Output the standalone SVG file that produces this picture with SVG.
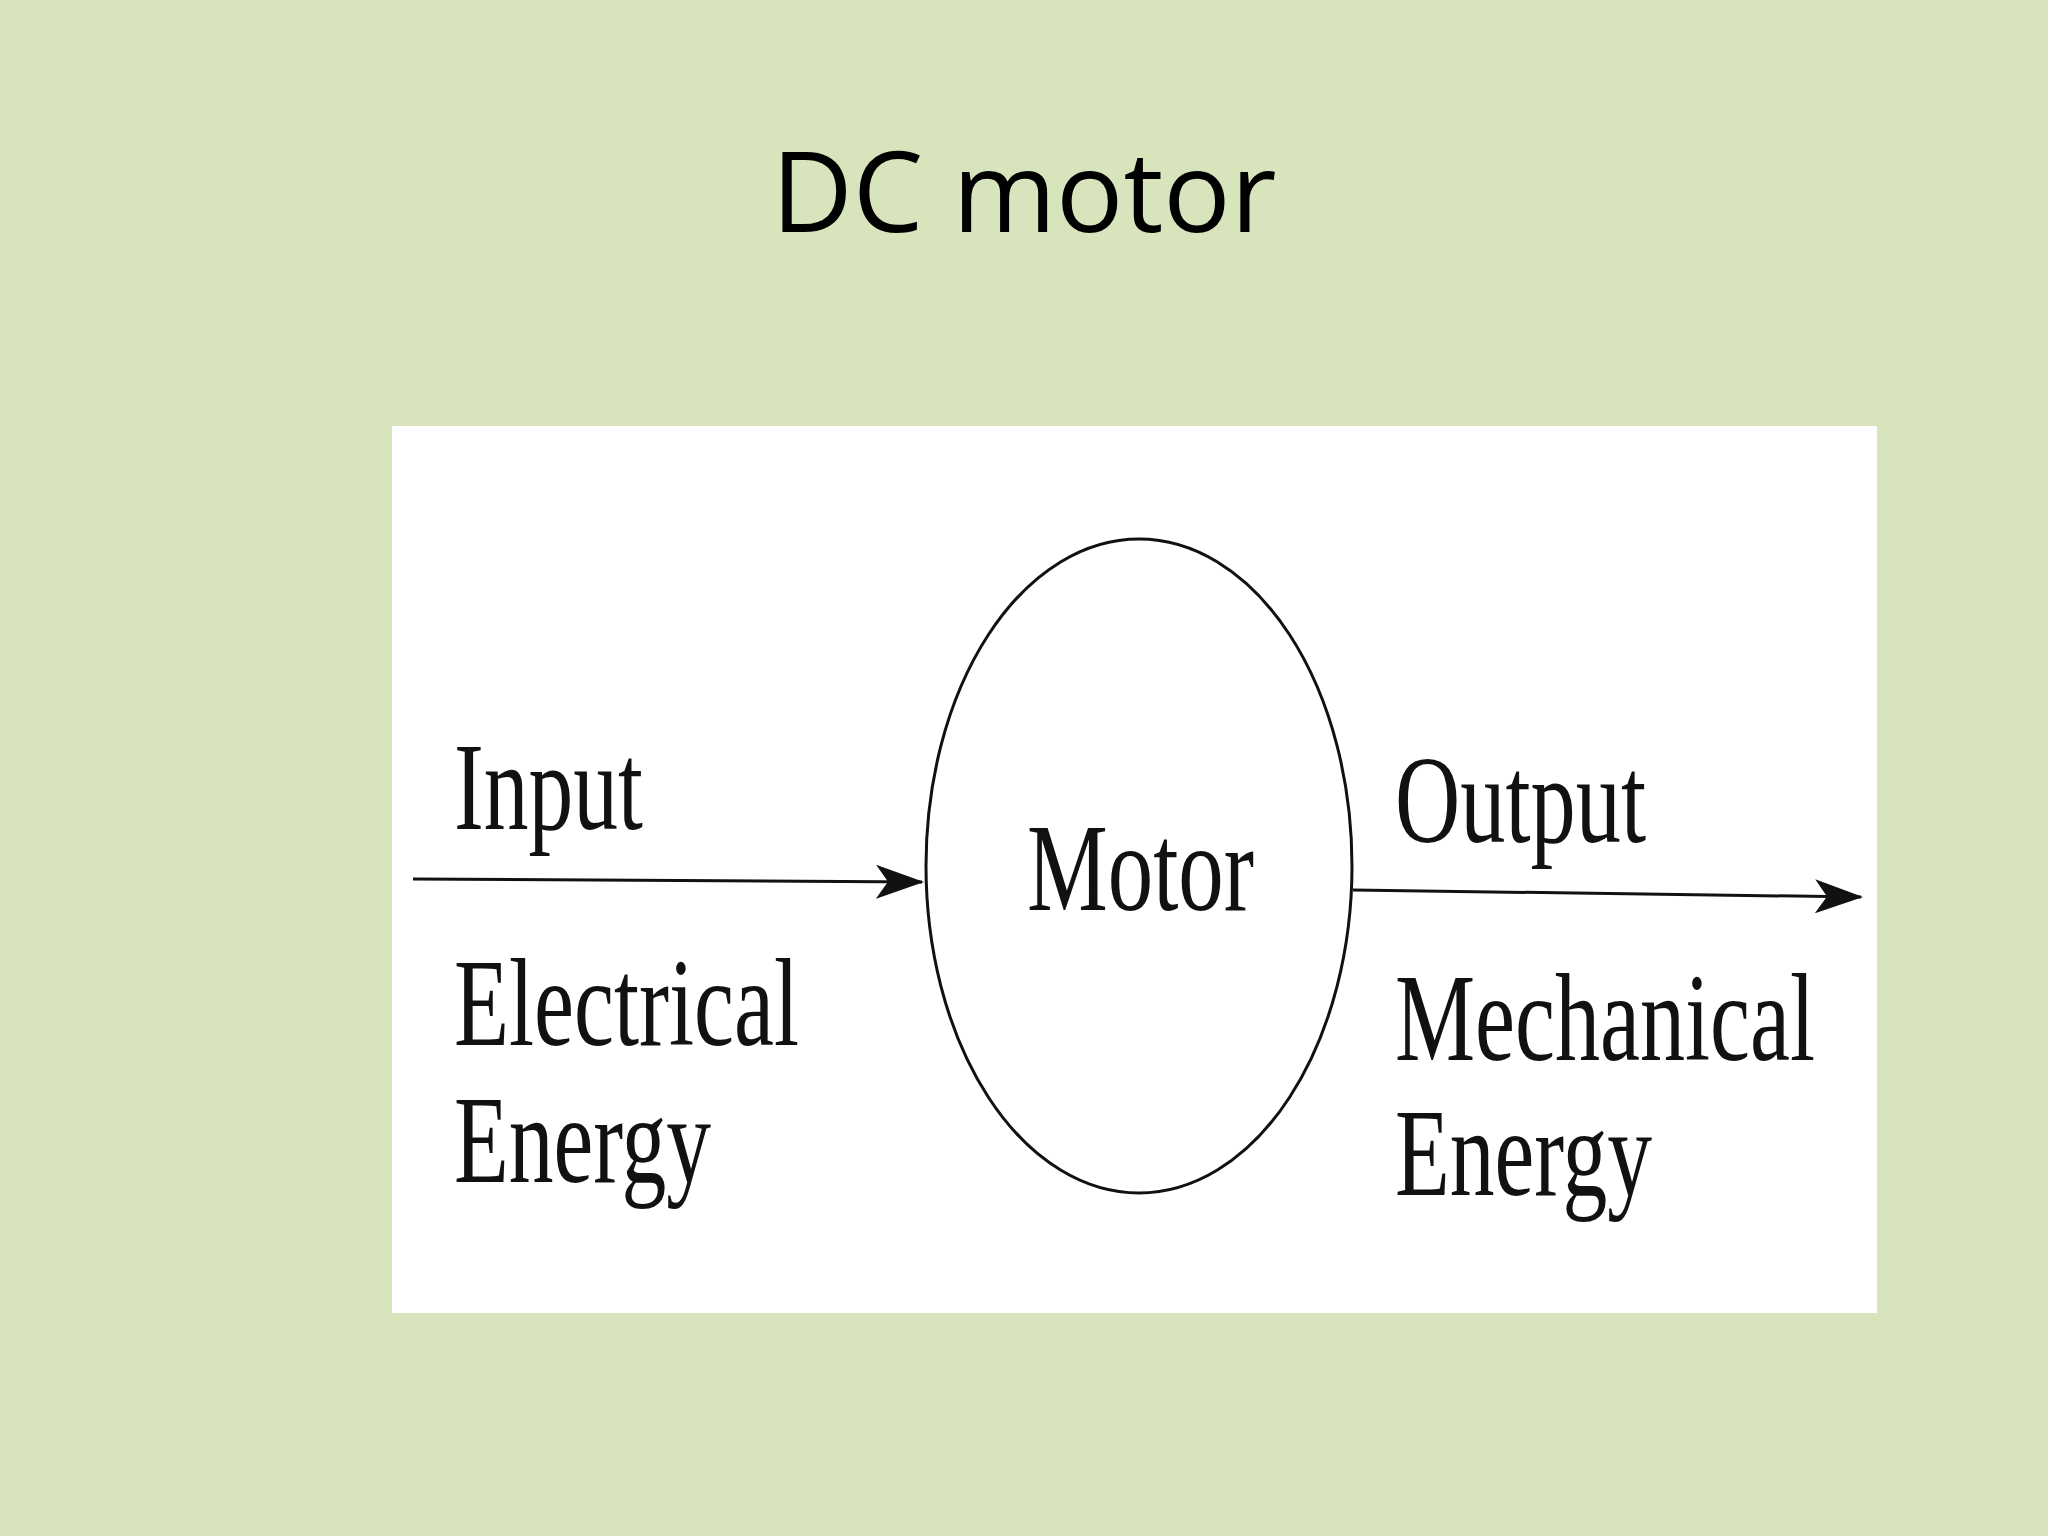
<svg xmlns="http://www.w3.org/2000/svg" width="2048" height="1536" viewBox="0 0 2048 1536">
<style>
.t{font-family:"Liberation Serif",serif;font-size:124px;fill:#111}
.c{stroke:#111;stroke-width:3;fill:none}
</style>
<defs><marker id="a" markerWidth="12" markerHeight="10" refX="11" refY="5" orient="auto" markerUnits="userSpaceOnUse" viewBox="0 0 12 10"><path d="M0,0 L12,5 L0,10 L3,5 Z" fill="#111"/></marker></defs>
<defs><marker id="b" markerWidth="48" markerHeight="34" refX="46" refY="17" orient="auto" markerUnits="userSpaceOnUse" viewBox="0 0 48 34"><path d="M0,0 L48,17 L0,34 L12,17 Z" fill="#111"/></marker></defs>
<rect width="2048" height="1536" fill="#d8e4bc"/>
<text x="1024" y="232" text-anchor="middle" font-family="'Open Sans',sans-serif" font-size="112" fill="#000">DC motor</text>
<rect x="392" y="426" width="1485" height="887" fill="#fff"/>
<g id="motor"><ellipse cx="1139" cy="866" rx="213" ry="327" class="c"/>
<text class="t" x="1027" y="910" textLength="227" lengthAdjust="spacingAndGlyphs">Motor</text></g>
<g id="input"><text class="t" x="454" y="829" textLength="189" lengthAdjust="spacingAndGlyphs">Input</text>
<text class="t" x="454" y="1045" textLength="345" lengthAdjust="spacingAndGlyphs">Electrical</text>
<text class="t" x="454" y="1182" textLength="257" lengthAdjust="spacingAndGlyphs">Energy</text></g>
<g id="output"><text class="t" x="1395" y="842" textLength="251" lengthAdjust="spacingAndGlyphs">Output</text>
<text class="t" x="1395" y="1060" textLength="420" lengthAdjust="spacingAndGlyphs">Mechanical</text>
<text class="t" x="1395" y="1195" textLength="257" lengthAdjust="spacingAndGlyphs">Energy</text></g>
<g id="connectors">
<line x1="413" y1="879" x2="922" y2="882" class="c" marker-end="url(#b)"/>
<line x1="1353" y1="890" x2="1861" y2="897" class="c" marker-end="url(#b)"/>
</g>
</svg>
